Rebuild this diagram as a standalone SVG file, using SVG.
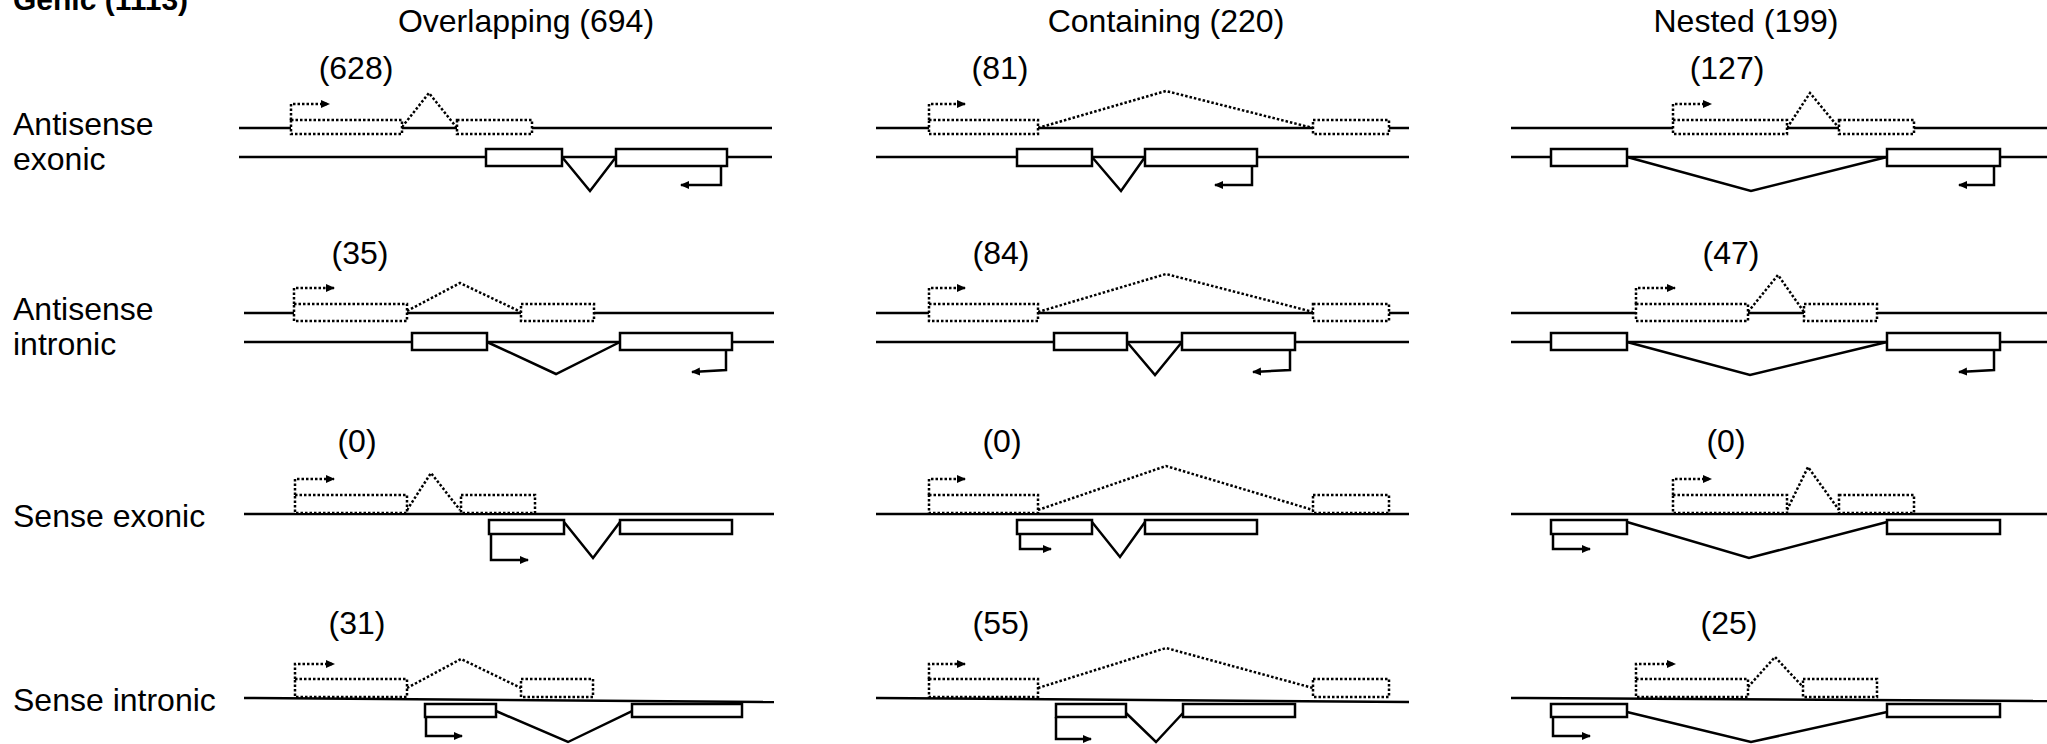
<svg xmlns="http://www.w3.org/2000/svg" width="2047" height="744" viewBox="0 0 2047 744">
<style>
text{font-family:"Liberation Sans",Arial,sans-serif;font-size:32px;fill:#000}
.t{text-anchor:middle}
.ln{stroke:#000;stroke-width:2.5;fill:none}
.dl{stroke:#000;stroke-width:2.5;fill:none;stroke-dasharray:2.5 2}
.bx{fill:#fff;stroke:#000;stroke-width:2.5}
.db{fill:#fff;stroke:#000;stroke-width:2.5;stroke-dasharray:2.5 2}
.ar{stroke:#000;stroke-width:2.5;fill:none;marker-end:url(#ah)}
.da{stroke:#000;stroke-width:2.5;fill:none;stroke-dasharray:2.5 2;marker-end:url(#ah)}
</style>
<defs>
<marker id="ah" markerUnits="userSpaceOnUse" markerWidth="10" markerHeight="9" refX="8" refY="4" orient="auto">
<path d="M0,0 L9,4 L0,8 z" fill="#000"/>
</marker>
</defs>
<rect width="2047" height="744" fill="#fff"/>
<g id="labels">
<text x="13" y="10" style="font-weight:bold;font-size:30px">Genic (1113)</text>
<text class="t" x="526" y="32">Overlapping (694)</text>
<text class="t" x="1166" y="32">Containing (220)</text>
<text class="t" x="1746" y="32">Nested (199)</text>
<text x="13" y="135">Antisense</text>
<text x="13" y="170">exonic</text>
<text x="13" y="320">Antisense</text>
<text x="13" y="355">intronic</text>
<text x="13" y="527">Sense exonic</text>
<text x="13" y="711">Sense intronic</text>
<text class="t" x="356" y="79">(628)</text>
<text class="t" x="1000" y="79">(81)</text>
<text class="t" x="1727" y="79">(127)</text>
<text class="t" x="360" y="264">(35)</text>
<text class="t" x="1001" y="264">(84)</text>
<text class="t" x="1731" y="264">(47)</text>
<text class="t" x="357" y="452">(0)</text>
<text class="t" x="1002" y="452">(0)</text>
<text class="t" x="1726" y="452">(0)</text>
<text class="t" x="357" y="634">(31)</text>
<text class="t" x="1001" y="634">(55)</text>
<text class="t" x="1729" y="634">(25)</text>
</g>
<!-- Row 1 -->
<g id="r1c1">
<path class="ln" d="M239,128H772M239,157H772"/>
<path class="dl" d="M402,127L429,93L457,128"/>
<path class="da" d="M291,120V104H329"/>
<rect class="db" x="291" y="120" width="111" height="14"/>
<rect class="db" x="457" y="120" width="75" height="14"/>
<path class="ln" d="M562,157L590,191L616,157"/>
<rect class="bx" x="486" y="149" width="76" height="17"/>
<rect class="bx" x="616" y="149" width="111" height="17"/>
<path class="ar" d="M721,166V185H681"/>
</g>
<g id="r1c2">
<path class="ln" d="M876,128H1409M876,157H1409"/>
<path class="dl" d="M1038,128L1166,91L1313,128"/>
<path class="da" d="M929,120V104H965"/>
<rect class="db" x="929" y="120" width="109" height="14"/>
<rect class="db" x="1313" y="120" width="76" height="14"/>
<path class="ln" d="M1092,157L1121,191L1145,157"/>
<rect class="bx" x="1017" y="149" width="75" height="17"/>
<rect class="bx" x="1145" y="149" width="112" height="17"/>
<path class="ar" d="M1252,166V185H1215"/>
</g>
<g id="r1c3">
<path class="ln" d="M1511,128H2047M1511,157H2047"/>
<path class="dl" d="M1787,128L1810,93L1839,128"/>
<path class="da" d="M1673,120V104H1711"/>
<rect class="db" x="1673" y="120" width="114" height="14"/>
<rect class="db" x="1839" y="120" width="75" height="14"/>
<path class="ln" d="M1627,157L1751,191L1887,157"/>
<rect class="bx" x="1551" y="149" width="76" height="17"/>
<rect class="bx" x="1887" y="149" width="113" height="17"/>
<path class="ar" d="M1994,166V185H1959"/>
</g>
<!-- Row 2 -->
<g id="r2c1">
<path class="ln" d="M244,313H774M244,342H774"/>
<path class="dl" d="M407,311L460,283L521,312"/>
<path class="da" d="M294,304V288H334"/>
<rect class="db" x="294" y="304" width="113" height="17"/>
<rect class="db" x="521" y="304" width="73" height="17"/>
<path class="ln" d="M487,342L556,374L620,342"/>
<rect class="bx" x="412" y="333" width="75" height="17"/>
<rect class="bx" x="620" y="333" width="112" height="17"/>
<path class="ar" d="M726,350V370L692,372"/>
</g>
<g id="r2c2">
<path class="ln" d="M876,313H1409M876,342H1409"/>
<path class="dl" d="M1038,312L1166,274L1313,312"/>
<path class="da" d="M929,304V288H965"/>
<rect class="db" x="929" y="304" width="109" height="17"/>
<rect class="db" x="1313" y="304" width="76" height="17"/>
<path class="ln" d="M1127,342L1155,375L1182,342"/>
<rect class="bx" x="1054" y="333" width="73" height="17"/>
<rect class="bx" x="1182" y="333" width="113" height="17"/>
<path class="ar" d="M1290,350V370L1253,372"/>
</g>
<g id="r2c3">
<path class="ln" d="M1511,313H2047M1511,342H2047"/>
<path class="dl" d="M1748,312L1778,275L1804,312"/>
<path class="da" d="M1636,304V288H1675"/>
<rect class="db" x="1636" y="304" width="112" height="17"/>
<rect class="db" x="1804" y="304" width="73" height="17"/>
<path class="ln" d="M1627,342L1750,375L1887,342"/>
<rect class="bx" x="1551" y="333" width="76" height="17"/>
<rect class="bx" x="1887" y="333" width="113" height="17"/>
<path class="ar" d="M1994,350V370L1959,372"/>
</g>
<!-- Row 3 -->
<g id="r3c1">
<path class="ln" d="M244,514H774"/>
<path class="dl" d="M407,510L431,473L460,510"/>
<path class="da" d="M295,495V479H334"/>
<rect class="db" x="295" y="495" width="112" height="18"/>
<rect class="db" x="461" y="495" width="74" height="18"/>
<path class="ln" d="M564,522L593,558L620,522"/>
<rect class="bx" x="489" y="520" width="75" height="14"/>
<rect class="bx" x="620" y="520" width="112" height="14"/>
<path class="ar" d="M491,534V560H528"/>
</g>
<g id="r3c2">
<path class="ln" d="M876,514H1409"/>
<path class="dl" d="M1038,510L1166,466L1313,510"/>
<path class="da" d="M929,495V479H965"/>
<rect class="db" x="929" y="495" width="109" height="18"/>
<rect class="db" x="1313" y="495" width="76" height="18"/>
<path class="ln" d="M1092,522L1120,557L1145,522"/>
<rect class="bx" x="1017" y="520" width="75" height="14"/>
<rect class="bx" x="1145" y="520" width="112" height="14"/>
<path class="ar" d="M1020,534V549H1051"/>
</g>
<g id="r3c3">
<path class="ln" d="M1511,514H2047"/>
<path class="dl" d="M1787,510L1808,467L1839,510"/>
<path class="da" d="M1673,495V479H1711"/>
<rect class="db" x="1673" y="495" width="114" height="18"/>
<rect class="db" x="1839" y="495" width="75" height="18"/>
<path class="ln" d="M1627,522L1749,558L1887,522"/>
<rect class="bx" x="1551" y="520" width="76" height="14"/>
<rect class="bx" x="1887" y="520" width="113" height="14"/>
<path class="ar" d="M1553,534V549H1590"/>
</g>
<!-- Row 4 -->
<g id="r4c1">
<path class="ln" d="M244,698L774,702"/>
<path class="dl" d="M407,688L461,659L521,688"/>
<path class="da" d="M295,679V664H334"/>
<rect class="db" x="295" y="679" width="112" height="18"/>
<rect class="db" x="521" y="679" width="72" height="18"/>
<path class="ln" d="M496,711L568,742L632,711"/>
<rect class="bx" x="425" y="704" width="71" height="13"/>
<rect class="bx" x="632" y="704" width="110" height="13"/>
<path class="ar" d="M426,717V736H462"/>
</g>
<g id="r4c2">
<path class="ln" d="M876,698L1409,702"/>
<path class="dl" d="M1038,688L1166,648L1313,688"/>
<path class="da" d="M929,679V664H965"/>
<rect class="db" x="929" y="679" width="109" height="18"/>
<rect class="db" x="1313" y="679" width="76" height="18"/>
<path class="ln" d="M1126,713L1156,742L1183,713"/>
<rect class="bx" x="1056" y="704" width="70" height="13"/>
<rect class="bx" x="1183" y="704" width="112" height="13"/>
<path class="ar" d="M1056,717V739H1091"/>
</g>
<g id="r4c3">
<path class="ln" d="M1511,698L2047,701"/>
<path class="dl" d="M1748,687L1775,657L1803,687"/>
<path class="da" d="M1636,679V664H1675"/>
<rect class="db" x="1636" y="679" width="112" height="18"/>
<rect class="db" x="1803" y="679" width="74" height="18"/>
<path class="ln" d="M1627,712L1751,742L1887,712"/>
<rect class="bx" x="1551" y="704" width="76" height="13"/>
<rect class="bx" x="1887" y="704" width="113" height="13"/>
<path class="ar" d="M1553,717V736H1590"/>
</g>
</svg>
